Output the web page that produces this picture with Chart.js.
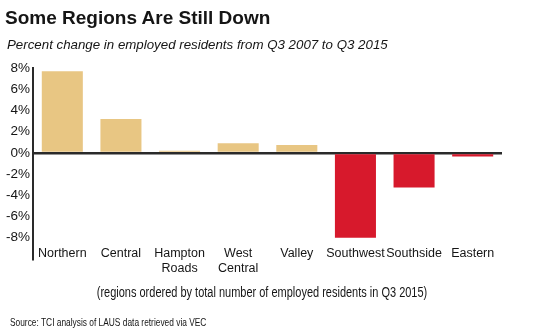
<!DOCTYPE html>
<html>
<head>
<meta charset="utf-8">
<script src="https://cdn.jsdelivr.net/npm/chart.js@4"></script>
<style>
  body { margin: 0; background: #fff; }
  #wrap { position: relative; width: 540px; height: 333px; }
  #chart { position: absolute; left: 0; top: 0; }
  .txt { position: absolute; color: #151515; white-space: nowrap; font-family: "Liberation Sans", Arial, sans-serif; }
  #title { left: 5px; top: 7px; font-size: 19px; font-weight: bold; }
  #subtitle { left: 7px; top: 37px; font-size: 13.3px; font-style: italic; }
  #note { left: 262px; top: 284px; font-size: 14px; transform: translateX(-50%) scaleX(0.785); }
  #source { left: 10px; top: 316px; font-size: 11px; transform: scaleX(0.76); transform-origin: left top; }
</style>
</head>
<body>
<div id="wrap">
  <canvas id="chart" width="540" height="333"></canvas>
  <div class="txt" id="title">Some Regions Are Still Down</div>
  <div class="txt" id="subtitle">Percent change in employed residents from Q3 2007 to Q3 2015</div>
  <div class="txt" id="note">(regions ordered by total number of employed residents in Q3 2015)</div>
  <div class="txt" id="source">Source: TCI analysis of LAUS data retrieved via VEC</div>
</div>
<script>
const regions = ['Northern', 'Central', ['Hampton', 'Roads'], ['West', 'Central'], 'Valley', 'Southwest', 'Southside', 'Eastern'];
const pctChange = [7.7, 3.2, 0.2, 0.9, 0.75, -8.0, -3.25, -0.35];
const yTicks = [8, 6, 4, 2, 0, -2, -4, -6, -8];

const tan = '#e8c683';
const red = '#d7192c';
const fontFamily = '"Liberation Sans", Arial, sans-serif';

const ctx = document.getElementById('chart').getContext('2d');
new Chart(ctx, {
    type: 'bar',
    data: {
        labels: regions,
        datasets: [{
            data: pctChange,
            backgroundColor: pctChange.map(v => v < 0 ? red : tan),
            borderWidth: 0,
            barPercentage: 0.7,
            categoryPercentage: 1
        }]
    },
    options: {
        responsive: false,
        animation: false,
        layout: { padding: { top: 68, right: 38, bottom: 64, left: 0 } },
        plugins: { legend: { display: false }, tooltip: { enabled: false } },
        scales: {
            x: {
                offset: true,
                grid: { display: false, drawTicks: false },
                border: { display: false },
                ticks: {
                    // mirror keeps the labels from being clipped to the axis box
                    mirror: true,
                    padding: -2,
                    maxRotation: 0,
                    autoSkip: false,
                    color: '#151515',
                    font: { family: fontFamily, size: 12.5, lineHeight: 1.25 }
                },
                afterFit: s => { s.height = 10; }
            },
            y: {
                min: -10,
                max: 8,
                afterBuildTicks: s => { s.ticks = yTicks.concat([-10]).map(v => ({ value: v })); },
                grid: {
                    drawTicks: false,
                    color: c => c.tick && c.tick.value === 0 ? '#2a2a2a' : 'rgba(0,0,0,0)',
                    lineWidth: 2.5
                },
                border: { display: true, color: '#2a2a2a', width: 2 },
                ticks: {
                    padding: 3,
                    color: '#151515',
                    font: { family: fontFamily, size: 13.5 },
                    callback: v => yTicks.includes(v) ? v + '%' : ''
                },
                afterFit: s => { s.width = 33; }
            }
        }
    }
});
</script>
</body>
</html>
